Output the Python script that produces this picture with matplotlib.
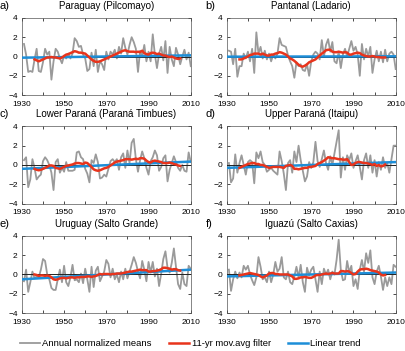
import matplotlib
matplotlib.use("Agg")
import matplotlib.pyplot as plt
import numpy as np
from matplotlib import font_manager
from matplotlib.lines import Line2D

plt.rcParams["font.family"] = ["Liberation Sans", "DejaVu Sans"]
_names = {f.name for f in font_manager.fontManager.ttflist}
TICK_FONT = "Liberation Sans Narrow" if "Liberation Sans Narrow" in _names else "Liberation Sans"
TICK_SIZE = 7.5 if TICK_FONT == "Liberation Sans Narrow" else 6.0

# ---------------------------------------------------------------------------
# Data
# ---------------------------------------------------------------------------

YEARS = np.arange(1931, 2011)
MA_YEARS = np.arange(1936, 2006)

LABELS = ["a)", "b)", "c)", "d)", "e)", "f)"]
TITLES = ["Paraguay (Pilcomayo)", "Pantanal (Ladario)",
          "Lower Paraná (Paraná Timbues)", "Upper Paraná (Itaipu)",
          "Uruguay (Salto Grande)", "Iguazú (Salto Caxias)"]

annual_a = [1.3, 0.2, -1.6, -1.5, -1.6, -0.3, 0.8, -1.5, -1.6, -0.6,
            0.8, 0.2, 0.5, -2.4, -0.5, 0.8, 0.5, -0.2, -0.7, 0.1,
            -0.2, 0.3, -0.2, 0.3, 1.9, 1.6, 1.0, 1.1, 0.2, -0.2,
            -1.5, -1.3, 0.4, -1.0, 0.7, -1.6, -0.5, -0.8, -1.4, 0.5,
            -0.3, 0.5, 0.2, 0.7, -0.2, 1.0, 0.3, 1.9, 0.9, 0.2,
            1.2, 2.0, 1.5, 0.8, -1.6, 0.6, 0.0, 1.2, -0.5, 0.5,
            -0.5, 2.3, 0.2, -1.2, 0.3, 1.0, -0.4, 1.6, -1.7, 1.0,
            -0.3, -1.0, 0.9, 0.2, -0.8, 0.0, 0.7, -0.3, 0.4, -1.0]
annual_b = [0.6, 0.5, -0.8, 0.8, -2.1, -1.0, -1.0, 0.3, -0.2, 0.5,
            -0.5, 0.8, -1.7, 2.5, 0.3, 1.0, -0.2, 0.6, -0.3, 0.3,
            -0.5, 0.2, -0.2, 0.3, 1.9, 1.2, 1.1, 1.0, 0.1, -0.5,
            -1.0, -2.2, -0.6, -1.0, -0.8, -1.4, -1.5, -0.8, -2.0, -0.5,
            0.2, 0.5, 0.3, -0.3, 1.7, 0.0, 1.2, 1.8, 0.5, 1.5,
            -0.5, -0.7, 0.5, -1.2, 0.2, 0.8, 0.0, 0.8, 1.6, 0.6,
            1.0, 0.2, -2.0, 1.3, -0.3, 0.8, 0.0, 1.0, -1.7, -0.3,
            0.6, -0.5, 0.5, -0.6, 0.7, -0.5, 0.3, 0.5, 0.2, -1.3]
annual_c = [0.5, 0.8, -2.3, -1.5, 0.6, -0.3, -1.5, -1.2, -1.0, 0.4,
            0.8, 0.5, 0.0, -0.8, -2.6, 0.3, 0.6, -0.8, -0.3, -0.7,
            0.3, -0.6, -0.6, -0.6, -0.5, 1.3, 1.4, 0.8, 0.6, -0.4,
            -0.9, -1.8, 0.5, 0.2, 1.1, 0.3, -1.4, -1.3, -1.0, -1.2,
            -0.4, 0.4, 0.6, 0.3, 0.6, -0.5, 0.8, 1.2, -0.3, 1.5,
            0.2, 2.3, 2.7, 0.6, -0.7, 0.5, 1.4, 0.7, -0.3, -1.0,
            0.4, 0.8, 1.5, 1.0, -0.6, -0.2, 0.7, 1.0, -1.7, -0.5,
            0.2, 0.9, 0.3, -0.3, -0.6, 0.0, -0.6, -0.7, 1.3, 0.3]
annual_d = [0.2, -1.8, -1.4, 1.1, -0.8, 0.2, 1.0, 0.0, -1.0, 0.3,
            0.5, 0.3, -1.9, 1.3, 0.7, 1.4, 0.3, 0.0, -0.7, -0.5,
            -0.3, -0.6, -0.8, -1.0, 1.4, 0.4, -0.9, -2.6, 0.2, 0.5,
            -0.8, 1.4, 0.3, 2.0, 0.5, -0.6, -1.7, -1.2, 0.3, -0.3,
            0.3, 2.4, 0.4, -0.2, 0.6, 1.5, 0.2, -0.5, 0.9, 0.0,
            1.2, 2.4, 3.6, -1.3, 0.8, -0.5, 1.0, 0.5, 1.2, -0.3,
            0.4, 1.0, -0.2, -1.5, 0.5, 1.2, -0.3, 1.0, -0.8, 0.5,
            -1.2, 0.3, -0.5, 0.8, -0.3, 0.2, -0.8, 0.6, 2.0, 2.0]
annual_e = [-0.7, 0.5, -1.8, -0.8, 0.3, -0.4, -0.2, -0.3, 0.5, 1.6,
            1.4, 0.0, -0.5, -1.4, -1.6, -1.6, -0.5, 0.5, -0.8, 0.9,
            -0.8, -1.2, -0.3, 1.0, -0.6, -0.5, -0.8, 0.1, -0.9, 0.6,
            -0.5, -1.8, 0.8, -1.3, 0.4, 0.8, -0.7, -0.2, 0.3, 1.5,
            1.1, -0.3, 0.6, -0.5, 0.0, -0.8, 0.3, -0.5, 0.6, -0.4,
            0.3, 1.0, 1.8, 1.2, 0.3, -0.4, 1.4, 0.5, -0.7, 1.3,
            0.2, 1.3, -0.2, 0.6, -1.2, 0.1, 1.6, 2.4, 0.7, 0.2,
            1.2, 2.7, 0.8, -1.0, -1.5, 0.2, -1.0, -1.2, 0.9, 0.6]
annual_f = [0.5, -1.7, -0.5, 0.3, -0.4, 0.2, -0.3, 0.9, 0.5, 0.9,
            0.0, -0.6, -1.1, -0.3, 1.8, 0.8, -0.5, -0.3, -0.8, 0.3,
            -0.8, 0.0, 1.3, 0.3, 0.6, 1.8, -0.3, -0.5, 0.3, -0.8,
            -1.0, -0.2, 0.8, -0.3, 1.0, -0.8, -1.8, 0.7, -0.1, 0.5,
            0.8, -0.5, -1.8, 0.3, -1.0, 0.6, 0.0, 0.5, -0.5, 0.3,
            0.0, 1.5, 3.6, 0.5, -0.6, -0.5, 1.4, 0.2, 0.9, -1.2,
            -0.5, -1.5, 0.5, 1.5, 0.3, 2.2, 1.2, 2.5, -0.3, -1.0,
            0.3, 0.9, -0.2, -1.6, -0.3, -1.2, -0.3, -1.0, 1.0, 0.8]

movavg_a = [-0.3, -0.4, -0.5, -0.4, -0.3, -0.2, -0.1, -0.1, -0.05, -0.1,
            -0.1, -0.15, -0.2, -0.1, 0.05, 0.2, 0.25, 0.35, 0.45, 0.55,
            0.5, 0.4, 0.4, 0.35, 0.3, 0.1, -0.1, -0.3, -0.45, -0.55,
            -0.55, -0.5, -0.4, -0.3, -0.2, -0.1, 0.0, 0.1, 0.2, 0.3,
            0.4, 0.5, 0.6, 0.65, 0.55, 0.5, 0.5, 0.5, 0.45, 0.5,
            0.45, 0.6, 0.35, 0.25, 0.2, 0.35, 0.4, 0.35, 0.25, 0.3,
            0.2, 0.1, 0.1, 0.0, -0.05, 0.0, -0.1, -0.2, -0.25, -0.2]
movavg_b = [-0.3, -0.3, -0.2, -0.1, 0.0, 0.15, 0.2, 0.3, 0.3, 0.3,
            0.2, 0.3, 0.2, 0.1, 0.1, 0.2, 0.2, 0.3, 0.35, 0.45,
            0.4, 0.3, 0.2, 0.0, -0.2, -0.3, -0.45, -0.65, -0.85, -1.0,
            -1.05, -0.95, -0.8, -0.6, -0.5, -0.4, -0.3, -0.1, 0.1, 0.3,
            0.45, 0.65, 0.7, 0.7, 0.5, 0.45, 0.45, 0.5, 0.45, 0.4,
            0.45, 0.4, 0.2, 0.2, 0.3, 0.35, 0.4, 0.35, 0.2, 0.1,
            0.05, 0.0, 0.0, 0.05, 0.0, -0.05, -0.05, -0.1, -0.1, -0.1]
movavg_c = [-0.4, -0.5, -0.55, -0.5, -0.4, -0.3, -0.2, -0.05, -0.05, -0.1,
            -0.3, -0.35, -0.4, -0.3, -0.2, -0.1, -0.05, 0.0, 0.05, 0.15,
            0.2, 0.2, 0.15, 0.1, 0.25, 0.2, 0.0, -0.2, -0.45, -0.55,
            -0.6, -0.55, -0.45, -0.35, -0.3, -0.2, -0.05, 0.1, 0.25, 0.35,
            0.4, 0.45, 0.5, 0.6, 0.6, 0.6, 0.55, 0.6, 0.65, 0.6,
            0.7, 0.7, 0.65, 0.45, 0.3, 0.25, 0.4, 0.45, 0.4, 0.35,
            0.3, 0.2, 0.2, 0.2, 0.25, 0.2, 0.1, 0.05, -0.05, -0.1]
movavg_d = [-0.3, -0.2, -0.1, 0.0, 0.1, 0.15, 0.2, 0.2, 0.1, 0.1,
            0.0, 0.0, -0.1, -0.2, -0.3, -0.25, -0.2, -0.2, -0.2, -0.2,
            -0.25, -0.3, -0.1, -0.05, 0.0, -0.1, -0.4, -0.4, -0.45, -0.4,
            -0.35, -0.3, -0.3, -0.2, -0.2, -0.15, -0.1, 0.1, 0.2, 0.3,
            0.45, 0.6, 0.8, 0.75, 0.7, 0.7, 0.65, 0.6, 0.6, 0.55,
            0.55, 0.6, 0.3, 0.0, 0.05, 0.2, 0.3, 0.3, 0.25, 0.2,
            0.2, 0.15, 0.1, 0.0, 0.1, -0.1, 0.0, -0.15, -0.1, 0.05]
movavg_e = [0.0, -0.05, -0.15, -0.1, -0.1, -0.15, -0.1, -0.15, -0.3, -0.5,
            -0.55, -0.5, -0.4, -0.35, -0.35, -0.4, -0.35, -0.3, -0.3, -0.35,
            -0.3, -0.3, -0.25, -0.25, -0.25, -0.2, -0.2, -0.25, -0.2, -0.15,
            -0.05, 0.05, 0.0, 0.05, 0.05, 0.05, 0.0, 0.05, 0.05, 0.1,
            0.1, 0.1, 0.15, 0.2, 0.25, 0.3, 0.3, 0.35, 0.4, 0.45,
            0.5, 0.45, 0.45, 0.45, 0.3, 0.3, 0.35, 0.35, 0.4, 0.45,
            0.55, 0.7, 0.7, 0.65, 0.6, 0.5, 0.55, 0.55, 0.45, 0.4]
movavg_f = [-0.1, -0.05, 0.0, 0.05, 0.1, 0.15, 0.1, 0.05, 0.0, -0.05,
            -0.2, -0.3, -0.2, -0.1, 0.1, 0.15, 0.15, 0.05, 0.05, 0.0,
            0.0, 0.0, 0.0, 0.0, -0.1, -0.2, -0.45, -0.45, -0.4, -0.3,
            -0.3, -0.25, -0.3, -0.35, -0.35, -0.25, -0.1, -0.05, -0.05, 0.0,
            0.05, 0.1, 0.05, 0.1, 0.15, 0.1, 0.1, 0.1, 0.35, 0.35,
            0.3, 0.35, 0.3, 0.15, 0.0, 0.05, 0.3, 0.5, 0.55, 0.55,
            0.6, 0.55, 0.45, 0.4, 0.35, 0.3, 0.2, 0.0, -0.1, -0.05]

TREND_YEARS = [1930, 2010]
trend_a = [-0.12, 0.12]
trend_b = [-0.02, 0.02]
trend_c = [-0.4, 0.35]
trend_d = [-0.3, 0.3]
trend_e = [-0.5, 0.5]
trend_f = [-0.2, 0.2]

ANNUAL = [annual_a, annual_b, annual_c, annual_d, annual_e, annual_f]
MOVAVG = [movavg_a, movavg_b, movavg_c, movavg_d, movavg_e, movavg_f]
TREND = [trend_a, trend_b, trend_c, trend_d, trend_e, trend_f]

XTICKS = [1930, 1950, 1970, 1990, 2010]
YTICKS = [-4, -2, 0, 2, 4]

GRAY = "#9a9a9a"
RED = "#e8341c"
BLUE = "#1d8ed8"

# ---------------------------------------------------------------------------
# Plot
# ---------------------------------------------------------------------------

fig = plt.figure(figsize=(4.05, 3.51), dpi=100)

lefts = [0.054, 0.560]
bottoms = [0.729, 0.420, 0.108]
width, height = 0.417, 0.220

for i in range(6):
    row, col = divmod(i, 2)
    ax = fig.add_axes([lefts[col], bottoms[row], width, height])
    ax.plot(YEARS, ANNUAL[i], color=GRAY, lw=1.3, zorder=2)
    ax.axhline(0, color="#222222", lw=0.7, zorder=3)
    ax.plot(TREND_YEARS, TREND[i], color=BLUE, lw=1.8, zorder=4)
    ax.plot(MA_YEARS, MOVAVG[i], color=RED, lw=1.8, zorder=5)

    ax.set_xlim(1930, 2010)
    ax.set_ylim(-4, 4)
    ax.set_xticks(XTICKS)
    ax.set_xticks(np.arange(1940, 2010, 20), minor=True)
    ax.set_yticks(YTICKS)
    ax.set_xticklabels([str(v) for v in XTICKS], family=TICK_FONT, size=TICK_SIZE)
    ax.set_yticklabels([str(v).replace("-", "\u2212") for v in YTICKS],
                       family=TICK_FONT, size=TICK_SIZE)
    ax.tick_params(which="both", direction="in", length=2, width=0.5,
                   top=True, right=True)
    ax.tick_params(axis="x", pad=4)
    ax.tick_params(axis="y", pad=3)
    for sp in ax.spines.values():
        sp.set_linewidth(0.5)
        sp.set_color("#555555")
    ax.set_title(TITLES[i], fontsize=7, pad=6.5)
    ax.text(-0.13 if col == 0 else -0.125, 1.156, LABELS[i], transform=ax.transAxes,
            fontsize=8, ha="left", va="center")

handles = [Line2D([], [], color=GRAY, lw=1.3),
           Line2D([], [], color=RED, lw=1.8),
           Line2D([], [], color=BLUE, lw=1.8)]
fig.legend(handles, ["Annual normalized means", "11-yr mov.avg filter", "Linear trend"],
           loc="center", bbox_to_anchor=(0.47, 0.02), ncol=3, frameon=False,
           fontsize=6.8, handlelength=2.1, handletextpad=0.3, columnspacing=1.8)

fig.savefig("out.png", dpi=100)
